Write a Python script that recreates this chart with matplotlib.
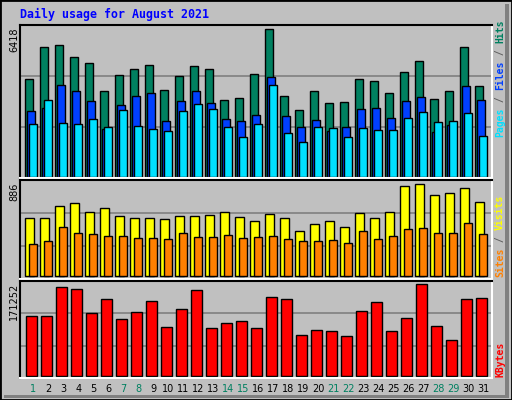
import matplotlib
matplotlib.use("Agg")
import matplotlib.pyplot as plt
from matplotlib.patches import Rectangle

days = list(range(1, 32))
hits = [4240,5634,5721,5198,4937,3717,4414,4675,4850,3761,4371,4806,4675,3325,3412,4458,6418,3499,2889,3717,3194,3238,4240,4153,3630,4545,5024,3369,3717,5634,3935]
files = [2846,2977,3978,3717,3282,2062,3107,3499,3630,2410,3282,3717,3194,2497,2410,2672,4327,2628,2149,2454,1975,2149,2933,2977,2541,3282,3456,1931,2236,3935,3325]
pages = [2280,3325,2323,2280,2497,2149,2889,2193,2062,1975,2846,3151,2933,2149,1713,2280,3978,1888,1496,2149,2105,1713,2105,2018,2018,2541,2802,2367,2410,2759,1757]
visits = [559,559,674,703,616,655,578,559,559,549,578,578,587,616,568,530,597,559,433,501,530,472,607,559,616,867,886,780,799,847,713]
sites = [308,337,472,414,404,385,385,366,366,356,414,376,376,395,366,376,385,356,337,337,347,318,433,356,385,453,462,414,414,510,404]
kbytes = [111250,111250,165625,161875,116875,143125,105625,118750,139375,90625,124375,160000,88750,98125,101875,88750,146875,143125,75625,85000,83125,73750,120625,137500,83125,107500,171252,92500,66250,143125,145000]
weekend = [1,7,8,14,15,21,22,28,29]

W, H = 512, 400
fig = plt.figure(figsize=(5.12, 4.0), dpi=100, facecolor="#C0C0C0")
mono = "DejaVu Sans Mono"

def px_axes(x0, y0, x1, y1):
    return fig.add_axes([x0 / W, 1 - y1 / H, (x1 - x0) / W, (y1 - y0) / H])

fig.add_artist(Rectangle((0, 0), 1, 1, transform=fig.transFigure, fill=False, ec="black", lw=2))
fig.add_artist(Rectangle((505 / W, 4 / H), 4 / W, 392 / H, transform=fig.transFigure, fc="#808080", ec="none"))
fig.add_artist(Rectangle((4 / W, 2 / H), 505 / W, 3 / H, transform=fig.transFigure, fc="#808080", ec="none"))

ec = dict(edgecolor="black", linewidth=1)

def style(ax, ylim, grids):
    ax.set_facecolor("#C0C0C0")
    ax.set_xlim(0.497, 31.97)
    ax.set_ylim(*ylim)
    for g in grids:
        ax.axhline(g, color="#808080", lw=1.2, zorder=0)
    ax.set_yticks([])
    ax.set_xticks([])
    for s in ["top", "left"]:
        ax.spines[s].set_color("black")
    for s in ["bottom", "right"]:
        ax.spines[s].set_color("white")
    for s in ax.spines.values():
        s.set_linewidth(1.5)

ax1 = px_axes(20, 25, 492, 178)
style(ax1, (-55, 6605), [2160, 4385])
ax1.bar([d - 0.15 for d in days], hits, width=0.49, align="edge", color="#008060", **ec)
ax1.bar([d - 0.017 for d in days], files, width=0.49, align="edge", color="#0040FF", **ec)
ax1.bar([d + 0.117 for d in days], pages, width=0.49, align="edge", color="#00E0FF", **ec)

ax2 = px_axes(20, 180, 492, 279)
style(ax2, (-26, 927), [289, 607])
ax2.bar([d - 0.15 for d in days], visits, width=0.56, align="edge", color="#FFFF00", **ec)
ax2.bar([d + 0.117 for d in days], sites, width=0.49, align="edge", color="#FF8000", **ec)

ax3 = px_axes(20, 281, 492, 378)
style(ax3, (-4300, 177435), [55085, 116900])
ax3.bar([d - 0.083 for d in days], kbytes, width=0.69, align="edge", color="#FF0000", **ec)
ax3.set_xticks([d + 0.38 for d in days])
ax3.set_xticklabels([str(d) for d in days], fontsize=7, family="DejaVu Sans")
ax3.tick_params(axis="x", length=0, pad=4)
for lab, d in zip(ax3.get_xticklabels(), days):
    lab.set_color("#008060" if d in weekend else "black")

def ftext(x, y, s, **kw):
    fig.text(x / W, 1 - y / H, s, **kw)

ftext(20, 14, "Daily usage for August 2021", color="#0000FF", fontsize=8.4,
      family=mono, fontweight="bold", va="center", ha="left")
ftext(14, 27, str(max(hits)), rotation=90, fontsize=7, family="DejaVu Sans", ha="center", va="top")
ftext(14, 183, str(max(visits)), rotation=90, fontsize=7, family="DejaVu Sans", ha="center", va="top")
ftext(14, 283, str(max(kbytes)), rotation=90, fontsize=7, family="DejaVu Sans", ha="center", va="top")

def vlabel(x, ybottom, segs, fs=7):
    adv = fs / 0.72 * 0.602
    y = ybottom
    for s, c in segs:
        ftext(x, y, s, rotation=90, color=c, fontsize=fs, family=mono,
              fontweight="bold", ha="center", va="bottom")
        y -= len(s) * adv

sep = "#606060"
vlabel(500, 137, [("Pages", "#00E0FF"), (" / ", sep), ("Files", "#0040FF"), (" / ", sep), ("Hits", "#008060")])
vlabel(500, 277, [("Sites", "#FF8000"), (" / ", sep), ("Visits", "#FFFF00")])
vlabel(500, 377, [("KBytes", "#FF0000")])

fig.savefig("out.png", dpi=100, facecolor=fig.get_facecolor())
